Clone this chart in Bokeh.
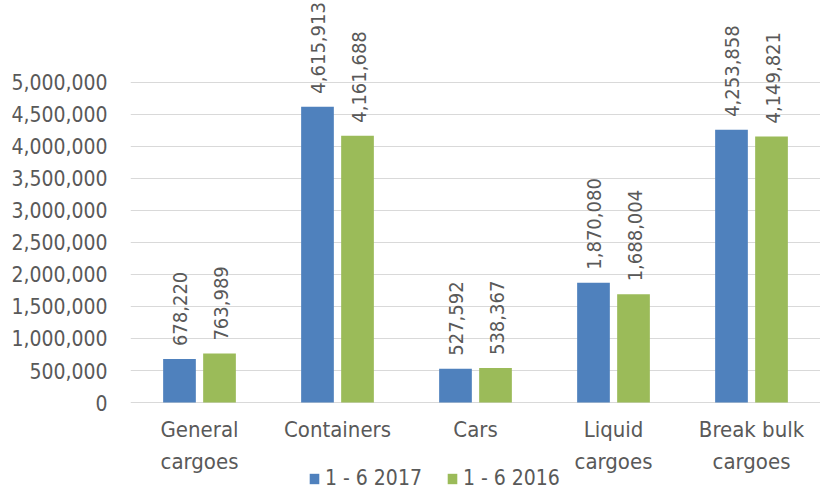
from math import pi
from bokeh.plotting import figure
from bokeh.models import (ColumnDataSource, FactorRange, Range1d, FixedTicker,
                          NumeralTickFormatter, Legend, LegendItem)
from bokeh.transform import dodge
from bokeh.core.properties import value
from bokeh.embed import file_html
from bokeh.resources import INLINE

categories = ["General\ncargoes", "Containers", "Cars", "Liquid\ncargoes", "Break bulk\ncargoes"]
series_names = ["1 - 6 2017", "1 - 6 2016"]
values_2017 = [678220, 4615913, 527592, 1870080, 4253858]
values_2016 = [763989, 4161688, 538367, 1688004, 4149821]
y_ticks = [0, 500000, 1000000, 1500000, 2000000, 2500000, 3000000, 3500000, 4000000, 4500000, 5000000]

FONT = "'DejaVu Sans Condensed', 'Roboto', sans-serif"
TXT = "#595959"
BLUE = "#4F81BD"
GREEN = "#9BBB59"

src = ColumnDataSource(dict(
    cat=categories,
    v17=values_2017,
    v16=values_2016,
    l17=[f"{v:,}" for v in values_2017],
    l16=[f"{v:,}" for v in values_2016],
))

# the frame reaches the bottom of the canvas; the category names and the legend
# sit below the zero line inside it
p = figure(x_range=FactorRange(*categories), y_range=Range1d(-1372000, 6272000),
           width=820, height=490, output_backend="svg", toolbar_location=None,
           x_axis_location=None,
           min_border_left=130, min_border_right=0, min_border_top=0,
           min_border_bottom=0)

off = 0.145
w = 0.237
r17 = p.vbar(x=dodge("cat", -off, range=p.x_range), top="v17", width=w, source=src,
             fill_color=BLUE, line_color=None)
r16 = p.vbar(x=dodge("cat", off, range=p.x_range), top="v16", width=w, source=src,
             fill_color=GREEN, line_color=None)

for col, lab, o in (("v17", "l17", -off), ("v16", "l16", off)):
    p.text(x=dodge("cat", o, range=p.x_range), y=col, text=lab,
           source=src, angle=pi / 2, text_align="left", text_baseline="middle",
           x_offset=1, y_offset=-13, text_font=value(FONT), text_font_size="20px",
           text_color=TXT)

# category names under the zero line
p.text(x="cat", y=value(0), text="cat", source=src, text_align="center",
       text_baseline="top", y_offset=14, text_font=value(FONT),
       text_font_size="22px", text_color=TXT, text_line_height=1.3)

p.yaxis.ticker = FixedTicker(ticks=y_ticks)
p.ygrid.ticker = FixedTicker(ticks=y_ticks)
p.yaxis.formatter = NumeralTickFormatter(format="0,0")
p.yaxis.axis_line_color = None
p.yaxis.major_tick_line_color = None
p.yaxis.minor_tick_line_color = None
p.yaxis.major_label_standoff = 17
p.yaxis.major_label_text_font = FONT
p.yaxis.major_label_text_font_size = "21px"
p.yaxis.major_label_text_color = TXT

p.xgrid.grid_line_color = None
p.ygrid.grid_line_color = "#D9D9D9"
p.ygrid.grid_line_width = 1
p.outline_line_color = None
p.background_fill_color = "white"
p.border_fill_color = "white"

legend = Legend(items=[LegendItem(label=series_names[0], renderers=[r17]),
                       LegendItem(label=series_names[1], renderers=[r16])],
                orientation="horizontal", location=(178, 0),
                label_text_font=FONT, label_text_font_size="21px",
                label_text_color=TXT, glyph_width=12, glyph_height=13,
                label_standoff=5, spacing=24, padding=0, margin=0,
                border_line_color=None, background_fill_alpha=0)
p.add_layout(legend, "center")

open("out.html", "w").write(file_html(p, INLINE))
